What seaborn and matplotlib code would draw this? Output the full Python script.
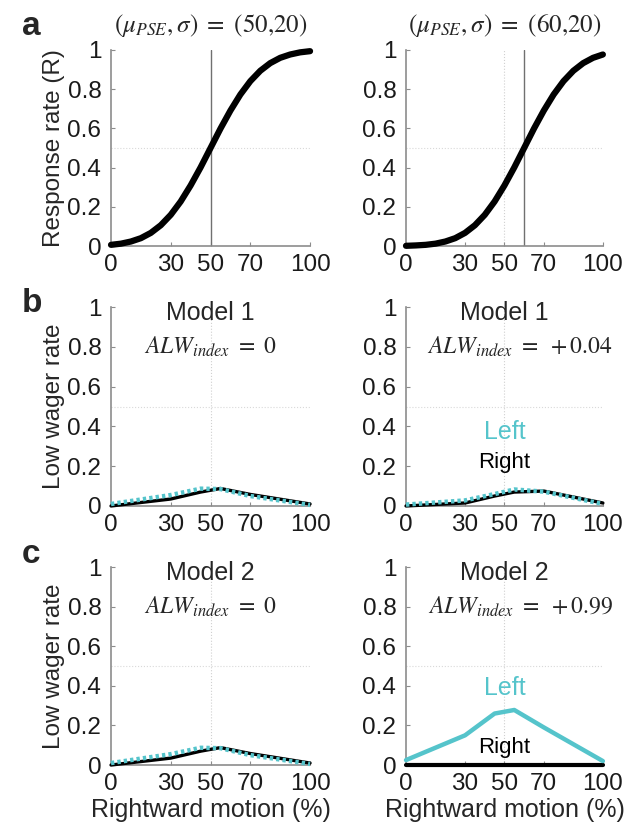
import numpy as np
import pandas as pd
import matplotlib
matplotlib.use("Agg")
import matplotlib.pyplot as plt
import seaborn as sns

# values
curve_x = list(range(0, 101, 5))
resp_pse50 = [0.006, 0.012, 0.023, 0.040, 0.067, 0.106, 0.159, 0.227, 0.309, 0.401, 0.500,
              0.599, 0.691, 0.773, 0.841, 0.894, 0.933, 0.960, 0.977, 0.988, 0.994]
resp_pse60 = [0.001, 0.003, 0.006, 0.012, 0.023, 0.040, 0.067, 0.106, 0.159, 0.227, 0.309,
              0.401, 0.500, 0.599, 0.691, 0.773, 0.841, 0.894, 0.933, 0.960, 0.977]

motion = [0, 30, 45, 55, 70, 100]
m1_sym_right = [0.0, 0.035, 0.07, 0.088, 0.058, 0.01]
m1_sym_left = [0.01, 0.055, 0.087, 0.085, 0.05, 0.005]
m1_bias_right = [0.0, 0.015, 0.05, 0.07, 0.075, 0.015]
m1_bias_left = [0.007, 0.028, 0.06, 0.083, 0.072, 0.01]
m2_sym_right = [0.0, 0.035, 0.07, 0.088, 0.058, 0.01]
m2_sym_left = [0.01, 0.055, 0.087, 0.085, 0.05, 0.005]
m2_bias_right = [0.0, 0.0, 0.0, 0.0, 0.0, 0.0]
m2_bias_left = [0.025, 0.15, 0.26, 0.278, 0.19, 0.02]

xticks = [0, 30, 50, 70, 100]
yticks = [0, 0.2, 0.4, 0.6, 0.8, 1]
ytick_labels = ["0", "0.2", "0.4", "0.6", "0.8", "1"]

cyan = "#55C4CB"
axis_grey = "#8c8c8c"

sns.set_style("ticks")
plt.rcParams["font.family"] = ["Liberation Sans", "DejaVu Sans"]
plt.rcParams["mathtext.fontset"] = "stix"

fig = plt.figure(figsize=(6.33, 8.25), dpi=100)

cols = [0.1754, 0.6414]
widths = [0.3144, 0.311]
rows = [(0.7018, 0.2376), (0.3867, 0.241), (0.0727, 0.24)]

axes = {}
for r, (b, h) in enumerate(rows):
    for c in range(2):
        axes[(r, c)] = fig.add_axes([cols[c], b, widths[c], h])


def style_axis(ax):
    ax.set_xlim(0, 100)
    ax.set_ylim(0, 1)
    ax.set_xticks(xticks)
    ax.set_yticks(yticks)
    ax.set_yticklabels(ytick_labels)
    ax.tick_params(direction="in", length=3, width=0.8, color=axis_grey,
                   labelsize=17.5, labelcolor="#1a1a1a")
    ax.tick_params(axis="x", pad=6)
    ax.tick_params(axis="y", pad=7)
    for s in ["top", "right"]:
        ax.spines[s].set_visible(False)
    for s in ["left", "bottom"]:
        ax.spines[s].set_color(axis_grey)
        ax.spines[s].set_linewidth(1.2)
    ax.axhline(0.5, color="#d9d9d9", lw=0.8, ls=":", zorder=0)
    ax.set_xlabel("")
    ax.set_ylabel("")


# row a: psychometric curves
for c, (vals, pse, title) in enumerate([(resp_pse50, 50, r"$(\mu_{PSE},\sigma)\ =\ (50{,}20)$"),
                                        (resp_pse60, 60, r"$(\mu_{PSE},\sigma)\ =\ (60{,}20)$")]):
    ax = axes[(0, c)]
    if pse != 50:
        ax.axvline(50, color="#d0d0d0", lw=0.8, ls=":", zorder=0)
    ax.axvline(pse, color="#707070", lw=1.0, zorder=1)
    df = pd.DataFrame({"x": curve_x, "y": vals})
    sns.lineplot(data=df, x="x", y="y", ax=ax, color="black", lw=4.5,
                 solid_capstyle="round", clip_on=False, zorder=3)
    style_axis(ax)
    ax.set_title(title, fontsize=18, pad=13)

axes[(0, 0)].set_ylabel("Response rate (R)", fontsize=17.5, labelpad=2)

# rows b, c: low wager rates
panels = [
    (1, 0, m1_sym_right, m1_sym_left, "Model 1", r"$ALW_{index}\ =\ 0$", False),
    (1, 1, m1_bias_right, m1_bias_left, "Model 1", r"$ALW_{index}\ =\ +0.04$", False),
    (2, 0, m2_sym_right, m2_sym_left, "Model 2", r"$ALW_{index}\ =\ 0$", False),
    (2, 1, m2_bias_right, m2_bias_left, "Model 2", r"$ALW_{index}\ =\ +0.99$", True),
]
for r, c, right_vals, left_vals, model, alw, solid in panels:
    ax = axes[(r, c)]
    ax.axvline(50, color="#d0d0d0", lw=0.8, ls=":", zorder=0)
    df = pd.DataFrame({"x": motion, "right": right_vals, "left": left_vals})
    if solid:
        sns.lineplot(data=df, x="x", y="right", ax=ax, color="black", lw=3,
                     clip_on=False, zorder=3)
        sns.lineplot(data=df, x="x", y="left", ax=ax, color=cyan, lw=3.2,
                     clip_on=False, zorder=4)
    else:
        sns.lineplot(data=df, x="x", y="right", ax=ax, color="black", lw=2.4,
                     clip_on=False, zorder=3)
        sns.lineplot(data=df, x="x", y="left", ax=ax, color=cyan, lw=3.2,
                     linestyle=(0, (0.75, 0.7)), clip_on=False, zorder=4)
    style_axis(ax)
    ax.text(50, 0.97, model, ha="center", va="center", fontsize=18)
    ax.text(50 if c == 0 else 58, 0.80, alw, ha="center", va="center", fontsize=17)
    if c == 1:
        ly, ry = (0.37, 0.22) if r == 1 else (0.39, 0.09)
        ax.text(50, ly, "Left", ha="center", va="center", fontsize=18, color=cyan)
        ax.text(50, ry, "Right", ha="center", va="center", fontsize=16, color="black")

for r in (1, 2):
    axes[(r, 0)].set_ylabel("Low wager rate", fontsize=17.5, labelpad=2)
for c in (0, 1):
    axes[(2, c)].set_xlabel("Rightward motion (%)", fontsize=18, labelpad=2)

for letter, y in [("a", 0.968), ("b", 0.632), ("c", 0.328)]:
    fig.text(0.035, y, letter, fontsize=24, fontweight="bold", ha="left", va="center")

fig.savefig("out.png", dpi=100)
